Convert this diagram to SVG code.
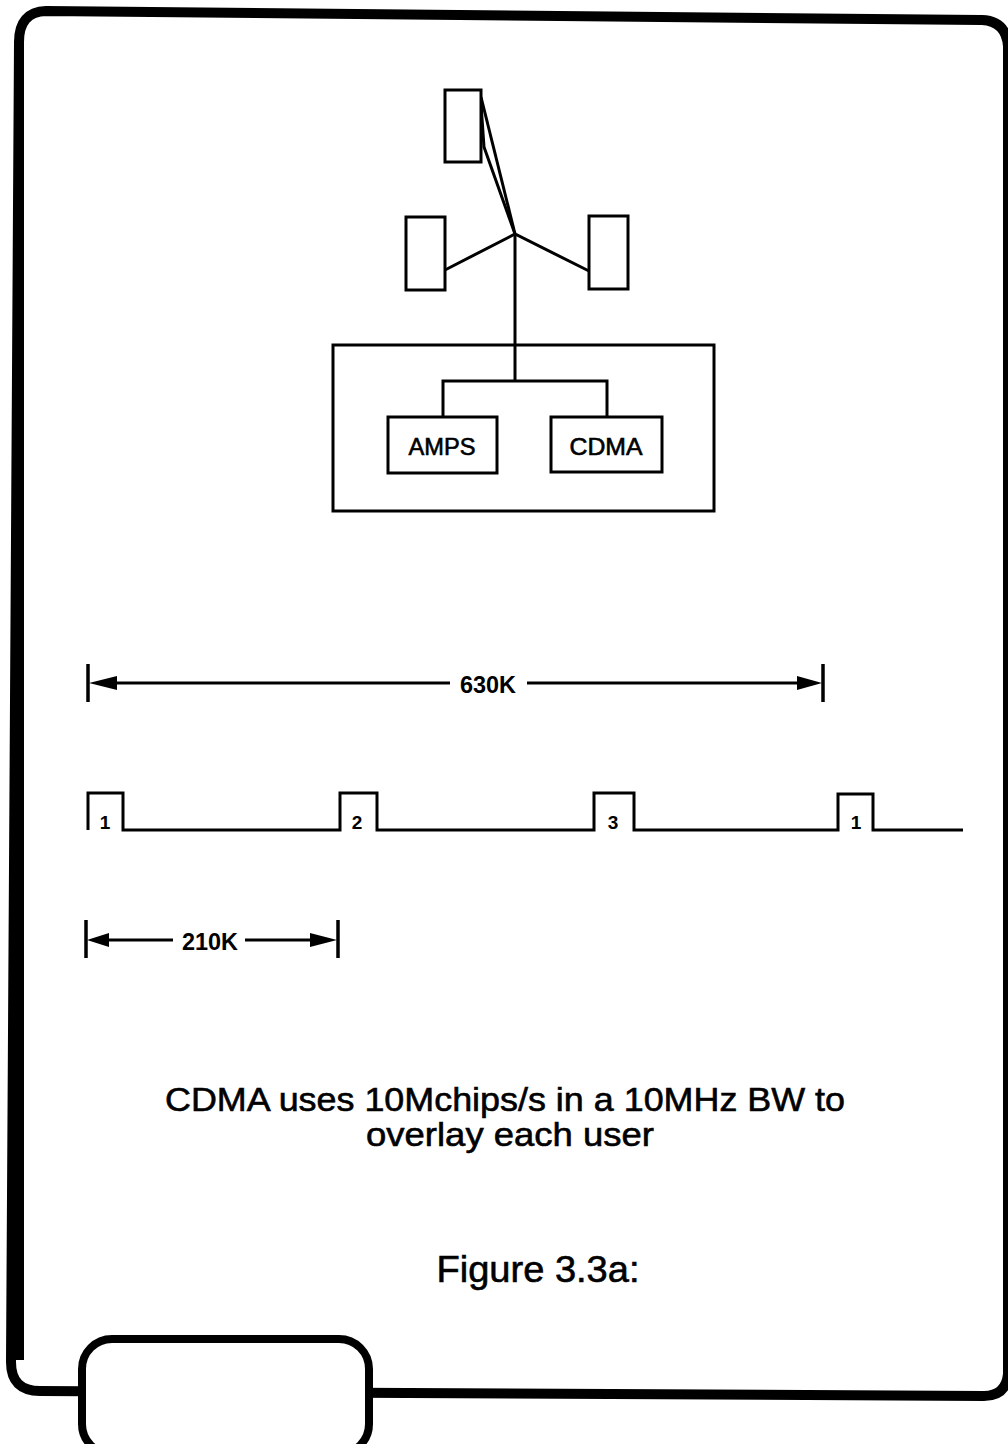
<svg xmlns="http://www.w3.org/2000/svg" width="1008" height="1444" viewBox="0 0 1008 1444">
<style>
.ln{fill:none;stroke:#000;stroke-width:3;stroke-linejoin:miter}
.bx{fill:#fff;stroke:#000;stroke-width:3}
.tk{stroke:#000;stroke-width:3.5;fill:none}
.ah{fill:#000}
.lbl{font-family:"Liberation Sans",Arial,sans-serif;fill:#000}
.cap{stroke:#000;stroke-width:0.6}
</style>
<rect x="0" y="0" width="1008" height="1444" fill="#fff"/>
<g id="frame">
<path d="M19,1360 L19,42 Q19,12 46,11 L982,20 Q1006,21 1008,46 L1008,1374 Q1006,1396 984,1396 L40,1391 Q11,1391 11,1362 L19,42" fill="none" stroke="#000" stroke-width="10" stroke-linejoin="round"/>
<rect x="82" y="1339" width="287" height="115" rx="30" ry="30" fill="#fff" stroke="#000" stroke-width="8"/>
</g>
<g id="connectors">
<path class="ln" d="M481,97 L515,234"/>
<path class="ln" d="M481,104 L484,147 L515,234"/>
<path class="ln" d="M445,270 L515,234 L589,271"/>
<path class="ln" d="M515,234 L515,381"/>
<path class="ln" d="M443,417 L443,381 L607,381 L607,417"/>
</g>
<g id="antenna-top"><rect class="bx" x="445" y="90" width="36" height="72"/></g>
<g id="antenna-left"><rect class="bx" x="406" y="217" width="39" height="73"/></g>
<g id="antenna-right"><rect class="bx" x="589" y="216" width="39" height="73"/></g>
<g id="base-station"><rect class="ln" x="333" y="345" width="381" height="166"/></g>
<g id="amps"><rect class="bx" x="388" y="417" width="109" height="56"/>
<text class="lbl cap" x="442" y="455" font-size="23" text-anchor="middle" textLength="67" lengthAdjust="spacingAndGlyphs">AMPS</text></g>
<g id="cdma"><rect class="bx" x="551" y="417" width="111" height="55"/>
<text class="lbl cap" x="606" y="455" font-size="23" text-anchor="middle" textLength="73" lengthAdjust="spacingAndGlyphs">CDMA</text></g>
<g id="dim-630k">
<path class="tk" d="M88,664 L88,702 M823,664 L823,702"/>
<path class="ln" d="M100,683 L450,683 M527,683 L810,683"/>
<polygon class="ah" points="89,683 117,676 117,690"/>
<polygon class="ah" points="822,683 797,676 797,690"/>
<text class="lbl" x="488" y="693" font-size="23" font-weight="bold" text-anchor="middle" textLength="56" lengthAdjust="spacingAndGlyphs">630K</text>
</g>
<g id="pulses">
<path class="ln" d="M88,830 L88,793 L123,793 L123,830 L340,830 L340,793 L377,793 L377,830 L594,830 L594,793 L634,793 L634,830 L838,830 L838,794 L873,794 L873,830 L963,830"/>
<text class="lbl" x="105" y="829" font-size="19" font-weight="bold" text-anchor="middle">1</text>
<text class="lbl" x="357" y="829" font-size="19" font-weight="bold" text-anchor="middle">2</text>
<text class="lbl" x="613" y="829" font-size="19" font-weight="bold" text-anchor="middle">3</text>
<text class="lbl" x="856" y="829" font-size="19" font-weight="bold" text-anchor="middle">1</text>
</g>
<g id="dim-210k">
<path class="tk" d="M86,920 L86,958 M338,920 L338,958"/>
<path class="ln" d="M95,940 L173,940 M245,940 L325,940"/>
<polygon class="ah" points="87,940 109,933 109,947"/>
<polygon class="ah" points="337,940 310,933 310,947"/>
<text class="lbl" x="210" y="950" font-size="23" font-weight="bold" text-anchor="middle" textLength="56" lengthAdjust="spacingAndGlyphs">210K</text>
</g>
<g id="caption">
<text class="lbl cap" x="505" y="1111" font-size="34" text-anchor="middle" textLength="680" lengthAdjust="spacingAndGlyphs">CDMA uses 10Mchips/s in a 10MHz BW to</text>
<text class="lbl cap" x="510" y="1146" font-size="34" text-anchor="middle" textLength="288" lengthAdjust="spacingAndGlyphs">overlay each user</text>
<text class="lbl cap" x="538" y="1282" font-size="37" text-anchor="middle" textLength="203" lengthAdjust="spacingAndGlyphs">Figure 3.3a:</text>
</g>
</svg>
